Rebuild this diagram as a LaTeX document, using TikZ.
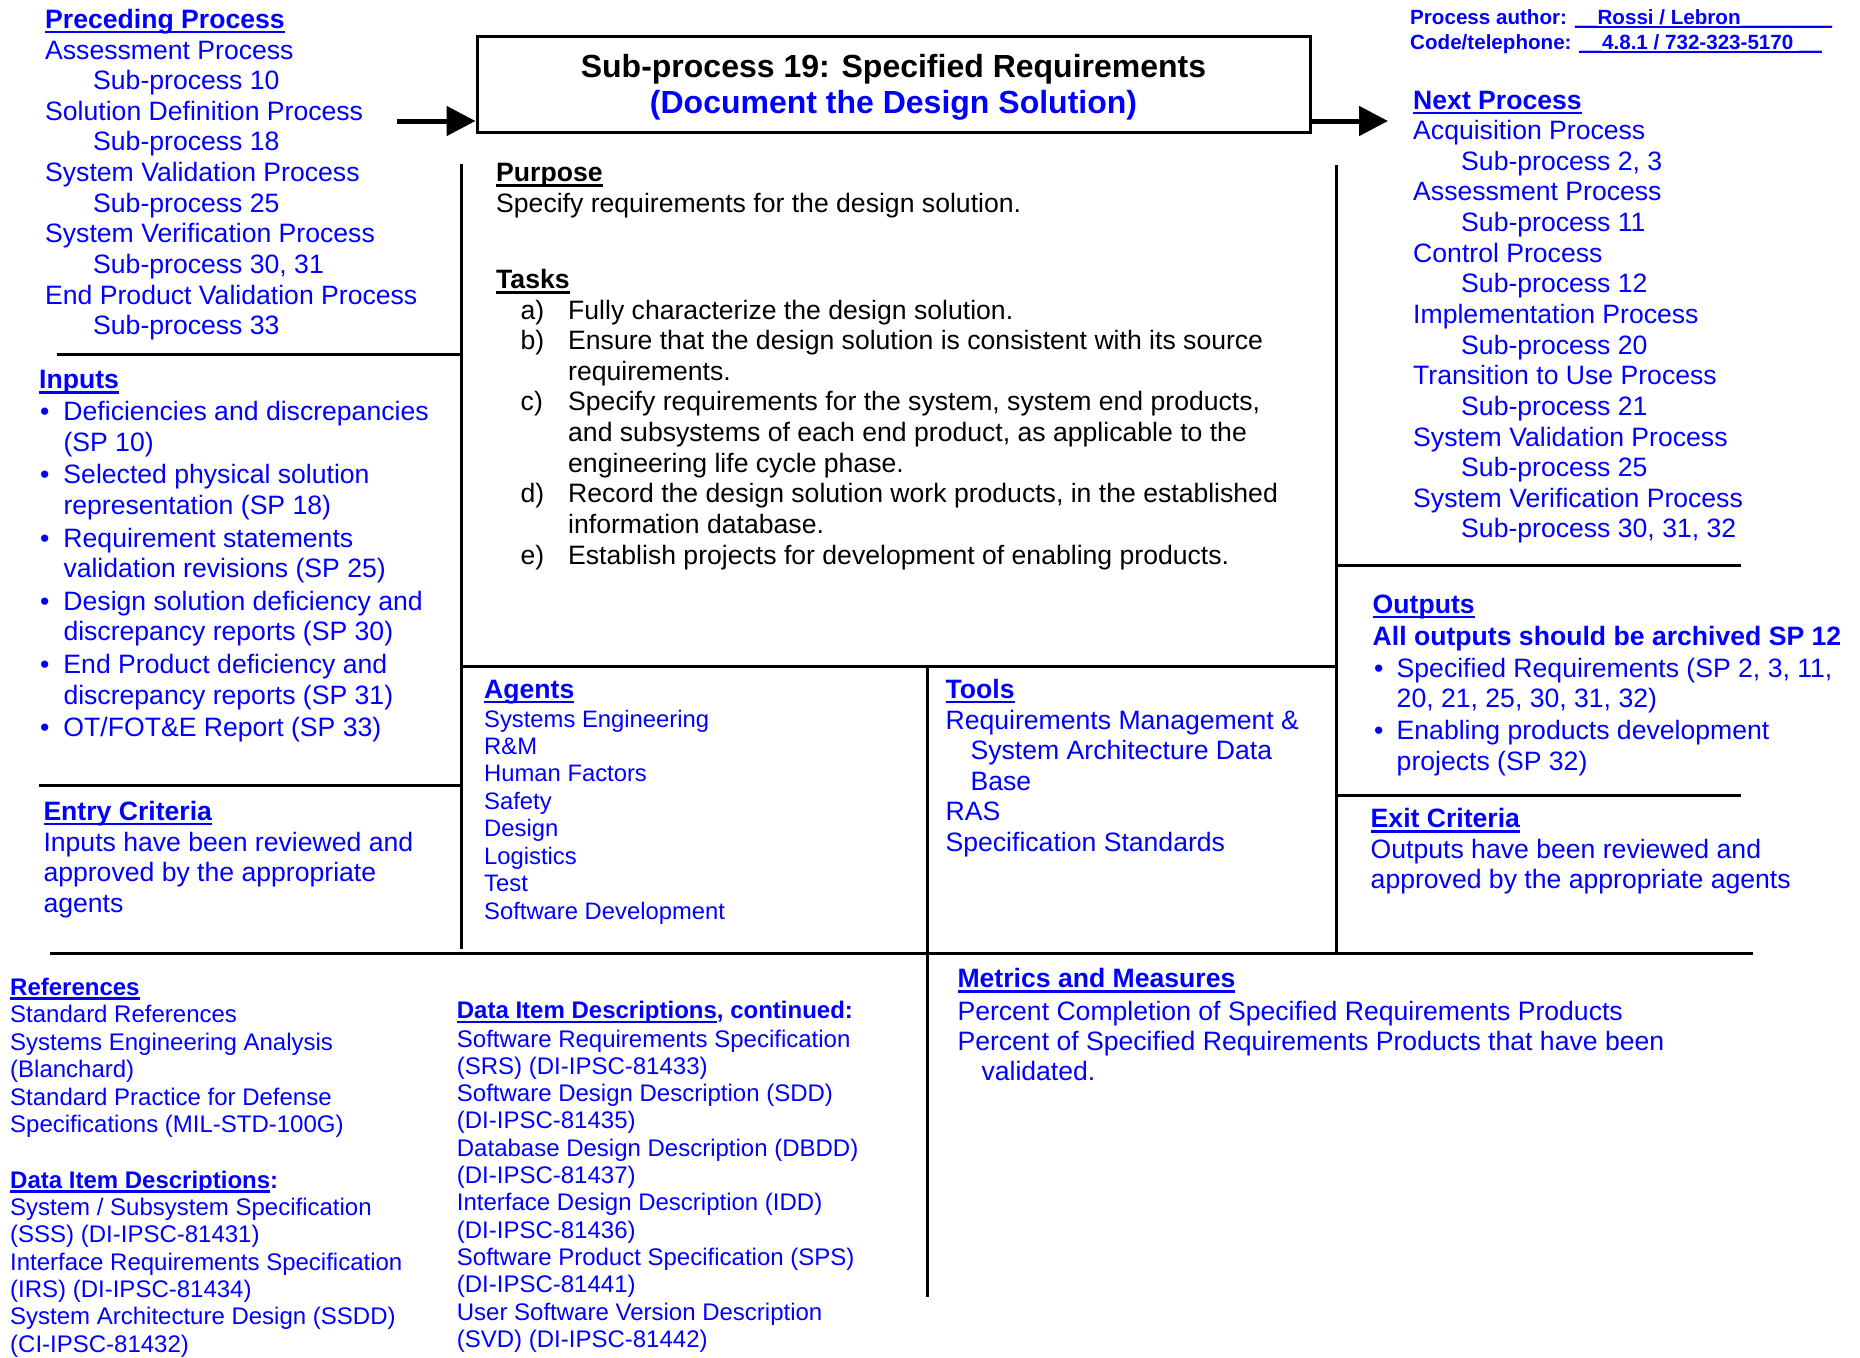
\documentclass[tikz,border=0pt]{standalone}
\usepackage{fontspec}
\setmainfont{Liberation Sans}
\usetikzlibrary{arrows.meta}

\newcommand\myul[1]{\setbox0=\hbox{#1}\rlap{\rule[-0.19em]{\wd0}{0.095em}}\box0}
\newcommand\fsA{\fontsize{26.6pt}{30.65pt}\selectfont}
\newcommand\fsB{\fontsize{24pt}{27.4pt}\selectfont}
\newcommand\indA{\hspace*{48pt}}
\newcommand\bul{\makebox[23.3pt][l]{\textbullet}}
\newcommand\bulB{\makebox[22.5pt][l]{\textbullet}}
\newcommand\lab[1]{\makebox[47.5pt][l]{#1}}
\newcommand\tabl[1]{\begin{tabular}[t]{@{}l@{}}#1\end{tabular}}

\tikzset{
  txt/.style={inner sep=0pt, anchor=base west, text=blue, font=\fsA},
  small/.style={txt, font=\fsB},
  head/.style={txt, font=\fsA\bfseries},
  smallhead/.style={txt, font=\fsB\bfseries},
  rule/.style={line width=3pt, black},
  flow/.style={line width=5pt, black, -{Triangle[length=29pt,width=29pt]}},
}

\begin{document}
\begin{tikzpicture}[x=1pt,y=-1pt]
\useasboundingbox (0,0) rectangle (1860,1357);
\fill[white] (0,0) rectangle (1860,1357);

% title box
\node[draw, line width=3pt, minimum width=833pt, minimum height=96pt, inner sep=0pt] (title) at (893.5,84) {};
\node[inner sep=0pt, anchor=base, font=\fontsize{32pt}{36pt}\selectfont\bfseries] (t1) at (893.5,77) {Sub-process 19: Specified Requirements};
\node[inner sep=0pt, anchor=base, text=blue, font=\fontsize{32pt}{36pt}\selectfont\bfseries] (t2) at (893.5,113) {(Document the Design Solution)};

% arrows
\coordinate (pin) at (397,121);
\coordinate (pout) at (1388,121);
\draw[flow] (pin) -- (pin -| title.west);
\draw[flow] (pout -| title.east) -- (pout);

% separator lines
\draw[rule] (461,164) -- (461,949);
\draw[rule] (1336,165) -- (1336,952);
\draw[rule] (57,354) -- (463,354);
\draw[rule] (39,785) -- (463,785);
\draw[rule] (461,666) -- (1336,666);
\draw[rule] (927,666) -- (927,1297);
\draw[rule] (50,953.5) -- (1753,953.5);
\draw[rule] (1336,565) -- (1741,565);
\draw[rule] (1336,795) -- (1741,795);

% author
\node[txt, font=\fontsize{20.6pt}{25pt}\selectfont\bfseries] (auth) at (1410,24) {Process author: \myul{\_\_Rossi / Lebron\_\_\_\_\_\_\_\_}};
\node[txt, font=\fontsize{20.6pt}{25pt}\selectfont\bfseries] (code) at (1410,49) {Code/telephone: \myul{\_\_4.8.1 / 732-323-5170 \_\_}};

% preceding
\node[head] (prech) at (45,28) {\myul{Preceding Process}};
\node[txt] (prec) at (45,59) {\tabl{Assessment Process\\ \indA Sub-process 10\\ Solution Definition Process\\ \indA Sub-process 18\\ System Validation Process\\ \indA Sub-process 25\\ System Verification Process\\ \indA Sub-process 30, 31\\ End Product Validation Process\\ \indA Sub-process 33}};

% next
\node[head] (nexth) at (1413,109) {\myul{Next Process}};
\node[txt] (next) at (1413,139.5) {\tabl{Acquisition Process\\ \indA Sub-process 2, 3\\ Assessment Process\\ \indA Sub-process 11\\ Control Process\\ \indA Sub-process 12\\ Implementation Process\\ \indA Sub-process 20\\ Transition to Use Process\\ \indA Sub-process 21\\ System Validation Process\\ \indA Sub-process 25\\ System Verification Process\\ \indA Sub-process 30, 31, 32}};

% inputs
\node[head] (inh) at (39,388.6) {\myul{Inputs}};
\node[txt] (inp) at (40,420.6) {\tabl{\bul Deficiencies and discrepancies\\ \hspace*{23.3pt}(SP 10)\\[1.9pt]
\bul Selected physical solution\\ \hspace*{23.3pt}representation (SP 18)\\[1.9pt]
\bul Requirement statements\\ \hspace*{23.3pt}validation revisions (SP 25)\\[1.9pt]
\bul Design solution deficiency and\\ \hspace*{23.3pt}discrepancy reports (SP 30)\\[1.9pt]
\bul End Product deficiency and\\ \hspace*{23.3pt}discrepancy reports (SP 31)\\[1.9pt]
\bul OT/FOT\&E Report (SP 33)}};

% entry
\node[head] (enth) at (43.3,820) {\myul{Entry Criteria}};
\node[txt] (ent) at (43.3,851) {\tabl{Inputs have been reviewed and\\ approved by the appropriate\\ agents}};

% purpose and tasks
\node[head, text=black] (purh) at (496,181.5) {\myul{Purpose}};
\node[txt, text=black] (pur) at (496,212) {Specify requirements for the design solution.};
\node[head, text=black] (taskh) at (496,288.5) {\myul{Tasks}};
\node[txt, text=black] (tasks) at (520.5,319) {\tabl{\lab{a)}Fully characterize the design solution.\\
\lab{b)}Ensure that the design solution is consistent with its source\\
\lab{}requirements.\\
\lab{c)}Specify requirements for the system, system end products,\\
\lab{}and subsystems of each end product, as applicable to the\\
\lab{}engineering life cycle phase.\\
\lab{d)}Record the design solution work products, in the established\\
\lab{}information database.\\
\lab{e)}Establish projects for development of enabling products.}};

% agents
\node[head] (agh) at (484,698) {\myul{Agents}};
\node[small, font=\fontsize{23.8pt}{27.45pt}\selectfont] (ag) at (484,727) {\tabl{Systems Engineering\\ R\&M\\ Human Factors\\ Safety\\ Design\\ Logistics\\ Test\\ Software Development}};

% tools
\node[head] (toh) at (945.4,698) {\myul{Tools}};
\node[txt, font=\fontsize{26.6pt}{30.5pt}\selectfont] (tools) at (945.4,729) {\tabl{Requirements Management \&\\ \hspace*{25pt}System Architecture Data\\ \hspace*{25pt}Base\\ RAS\\ Specification Standards}};

% outputs
\node[head] (outh) at (1372.5,613) {\myul{Outputs}};
\node[head] (outb) at (1372.5,645) {All outputs should be archived SP 12};
\node[txt] (outl) at (1374,677) {\tabl{\bulB Specified Requirements (SP 2, 3, 11,\\ \hspace*{22.5pt}20, 21, 25, 30, 31, 32)\\[1.3pt]
\bulB Enabling products development\\ \hspace*{22.5pt}projects (SP 32)}};

% exit
\node[head] (exh) at (1370.5,827.5) {\myul{Exit Criteria}};
\node[txt] (ex) at (1370.5,858) {\tabl{Outputs have been reviewed and\\ approved by the appropriate agents}};

% metrics
\node[head] (meh) at (957.3,987.6) {\myul{Metrics and Measures}};
\node[txt, font=\fontsize{26.6pt}{30pt}\selectfont] (me) at (957.3,1020) {\tabl{Percent Completion of Specified Requirements Products\\ Percent of Specified Requirements Products that have been\\ \hspace*{24pt}validated.}};

% references
\node[smallhead] (refh) at (10,995) {\myul{References}};
\node[small, font=\fontsize{24pt}{27.6pt}\selectfont] (refs) at (10,1022.5) {\tabl{Standard References\\ Systems Engineering Analysis\\ (Blanchard)\\ Standard Practice for Defense\\ Specifications (MIL-STD-100G)}};
\node[smallhead] (didh) at (10,1188) {\myul{Data Item Descriptions}:};
\node[small, font=\fontsize{24pt}{27.3pt}\selectfont] (did) at (10,1215.6) {\tabl{System / Subsystem Specification\\ (SSS) (DI-IPSC-81431)\\ Interface Requirements Specification\\ (IRS) (DI-IPSC-81434)\\ System Architecture Design (SSDD)\\ (CI-IPSC-81432)}};

% DID continued
\node[smallhead] (did2h) at (456.7,1018.5) {\myul{Data Item Descriptions}, continued:};
\node[small, font=\fontsize{24pt}{27.3pt}\selectfont] (did2) at (456.7,1047) {\tabl{Software Requirements Specification\\ (SRS) (DI-IPSC-81433)\\ Software Design Description (SDD)\\ (DI-IPSC-81435)\\ Database Design Description (DBDD)\\ (DI-IPSC-81437)\\ Interface Design Description (IDD)\\ (DI-IPSC-81436)\\ Software Product Specification (SPS)\\ (DI-IPSC-81441)\\ User Software Version Description\\ (SVD) (DI-IPSC-81442)}};
\end{tikzpicture}
\end{document}
